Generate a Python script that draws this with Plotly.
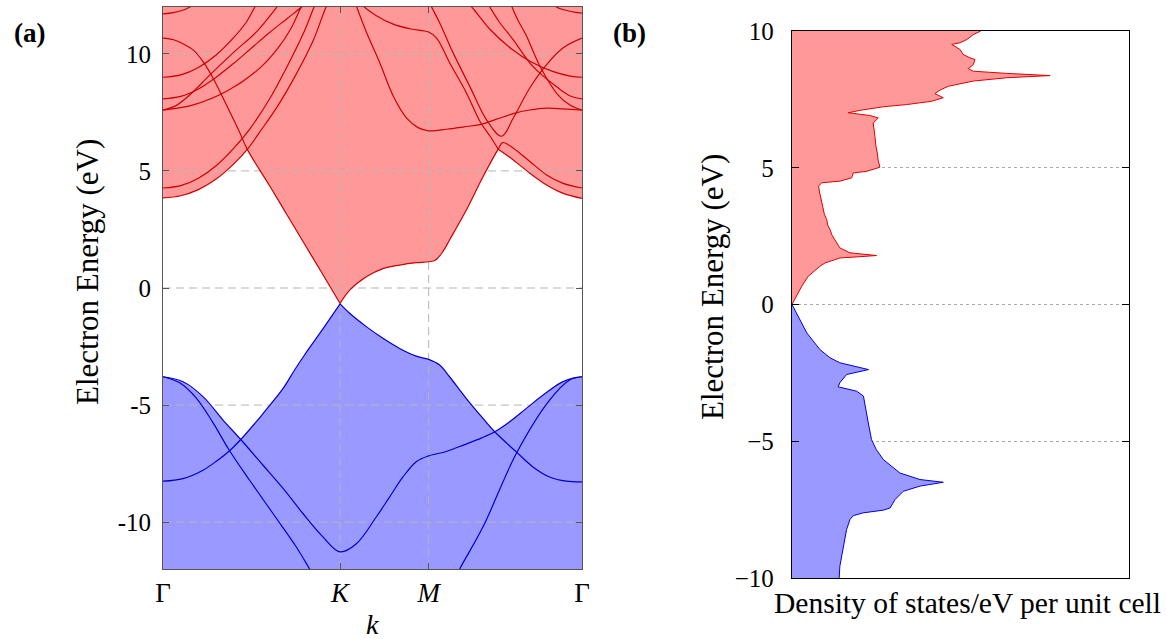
import plotly.graph_objects as go

FONT = "Liberation Serif"
RED_FILL = "#ff9999"
BLUE_FILL = "#9999ff"
RED_LINE = "#cc0000"
BLUE_LINE = "#0000cc"

# ---------------- panel (a): band structure ----------------
K_TICKS = [0.0, 1.0, 1.5, 2.366]
K_TICK_TEXT = ["Γ", "<i>K</i>", "<i>M</i>", "Γ"]
E_RANGE_A = [-12, 12]
E_TICKS = [-10, -5, 0, 5, 10]
E_TICK_TEXT_A = ["-10", "-5", "0", "5", "10"]

# conduction bands
PIS_GK_K = [0, 0.06, 0.12, 0.17, 0.228, 0.284, 0.359, 0.425, 0.476, 0.6, 0.7, 0.8, 0.9, 1.0]
PIS_GK_E = [10.67, 10.6, 10.4, 10.17, 9.65, 8.95, 7.8, 6.78, 5.92, 4.39, 3.13, 1.87, 0.61, -0.66]

PIS_KG_K = [1.0, 1.054, 1.148, 1.242, 1.336, 1.43, 1.5, 1.54, 1.58, 1.618, 1.713, 1.807, 1.893,
            1.918, 1.978, 2.072, 2.166, 2.26, 2.366]
PIS_KG_E = [-0.66, -0.09, 0.48, 0.83, 0.98, 1.08, 1.12, 1.2, 1.55, 2.05, 3.33, 4.75, 5.93,
            6.21, 5.97, 5.40, 4.83, 4.47, 4.27]

CA_L_K = [0, 0.1, 0.2, 0.3, 0.4, 0.476, 0.55, 0.65, 0.75, 0.85, 0.918, 0.96]
CA_L_E = [3.85, 3.94, 4.2, 4.65, 5.3, 5.92, 6.7, 7.8, 9.1, 10.6, 11.95, 12.6]

CB_L_K = [0, 0.1, 0.2, 0.3, 0.4, 0.491, 0.6, 0.7, 0.8, 0.853, 0.9]
CB_L_E = [4.27, 4.37, 4.69, 5.22, 5.97, 6.8, 8.05, 9.45, 11.0, 12.0, 12.8]

G_L_K = [0, 0.06, 0.12, 0.152, 0.2]
G_L_E = [11.71, 11.76, 11.88, 12.0, 12.2]

F1_K = [0, 0.1, 0.2, 0.3, 0.4, 0.47, 0.519, 0.56]
F1_E = [9.0, 9.1, 9.42, 9.95, 10.7, 11.35, 12.0, 12.5]
F2_K = [0, 0.1, 0.2, 0.3, 0.4, 0.5, 0.6, 0.7, 0.783, 0.83]
F2_E = [8.08, 8.18, 8.5, 9.0, 9.6, 10.25, 10.9, 11.5, 12.0, 12.3]
F3_K = [0, 0.076, 0.152, 0.265, 0.397, 0.529, 0.623, 0.68]
F3_E = [7.6, 7.8, 8.25, 9.1, 10.05, 10.95, 11.8, 12.4]
F4_K = [0, 0.171, 0.359, 0.548, 0.65, 0.72, 0.78, 0.82]
F4_E = [7.6, 7.82, 8.4, 9.4, 10.25, 11.05, 12.0, 12.6]

A_K = [1.12, 1.2, 1.3, 1.4, 1.5, 1.545, 1.62, 1.714, 1.79, 1.85, 1.893]
A_E = [12.1, 11.65, 11.27, 11.06, 10.93, 10.67, 9.6, 8.32, 7.11, 6.45, 5.93]
CA_R_K = [1.893, 1.978, 2.072, 2.166, 2.26, 2.366]
CA_R_E = [5.93, 5.47, 4.9, 4.4, 4.04, 3.83]

B_K = [1.5, 1.517, 1.564, 1.639, 1.733, 1.827, 1.912, 1.978, 2.072, 2.166, 2.26, 2.366]
B_E = [12.3, 12.0, 11.3, 10.03, 8.6, 7.18, 6.48, 7.26, 8.55, 9.54, 10.26, 10.67]

FLAT_K = [1.08, 1.094, 1.15, 1.225, 1.3, 1.376, 1.44, 1.5, 1.602, 1.7, 1.79, 1.88, 1.978,
          2.07, 2.166, 2.26, 2.366]
FLAT_E = [12.3, 12.0, 10.9, 9.6, 8.2, 7.25, 6.85, 6.71, 6.78, 6.88, 6.98, 7.2, 7.45,
          7.6, 7.68, 7.65, 7.6]

G1_K = [1.72, 1.76, 1.846, 1.978, 2.08, 2.2, 2.3, 2.366]
G1_E = [12.2, 11.85, 11.05, 10.15, 9.65, 9.25, 9.05, 9.0]
G2_K = [1.83, 1.9, 1.978, 2.09, 2.23, 2.3, 2.366]
G2_E = [12.2, 11.35, 10.6, 9.45, 8.55, 8.2, 8.08]
G3_K = [1.96, 2.0, 2.05, 2.13, 2.23, 2.3, 2.366]
G3_E = [12.2, 11.5, 10.8, 9.45, 8.25, 7.8, 7.6]
G_R_K = [2.2, 2.222, 2.28, 2.33, 2.366]
G_R_E = [12.2, 12.0, 11.85, 11.77, 11.74]

# valence bands
PI_GK_K = [0, 0.113, 0.226, 0.301, 0.376, 0.439, 0.565, 0.678, 0.743, 0.8, 0.9, 1.0]
PI_GK_E = [-8.25, -8.14, -7.78, -7.4, -6.95, -6.47, -5.36, -4.29, -3.5, -2.85, -1.78, -0.68]

PI_KG_K = [1.0, 1.054, 1.148, 1.242, 1.336, 1.43, 1.5, 1.562, 1.618, 1.713, 1.807, 1.873,
           1.995, 2.089, 2.183, 2.277, 2.366]
PI_KG_E = [-0.68, -1.08, -1.65, -2.15, -2.58, -2.91, -3.05, -3.29, -3.79, -4.72, -5.57, -6.14,
           -7.0, -7.64, -8.07, -8.25, -8.28]

SIG1_K = [0, 0.113, 0.226, 0.339, 0.439, 0.565, 0.678, 0.79, 0.903, 1.0, 1.092, 1.204, 1.28,
          1.355, 1.43, 1.5, 1.6, 1.7, 1.8, 1.873, 1.95, 2.05, 2.15, 2.25, 2.32, 2.366]
SIG1_E = [-3.79, -4.0, -4.64, -5.64, -6.47, -7.57, -8.56, -9.63, -10.63, -11.27, -10.92, -9.78,
          -8.92, -8.07, -7.42, -7.17, -6.98, -6.7, -6.4, -6.14, -5.75, -5.15, -4.55, -4.03,
          -3.84, -3.79]

SIG2_K = [0, 0.094, 0.188, 0.282, 0.376, 0.489, 0.621, 0.753, 0.828, 0.9, 1.0, 1.25, 1.5,
          1.6, 1.675, 1.807, 1.995, 2.183, 2.296, 2.366]
SIG2_E = [-3.79, -4.05, -4.7, -5.75, -6.95, -8.21, -9.63, -11.06, -12.0, -12.9, -13.7, -14.3,
          -13.9, -13.1, -12.0, -10.2, -7.07, -4.79, -3.93, -3.79]

# ---------------- panel (b): density of states ----------------
E_RANGE_B = [-10, 10]
E_TICK_TEXT_B = ["−10", "−5", "0", "5", "10"]
DOS_RANGE = [0, 1]

DOS_C_E = [0, 0.67, 1.03, 1.4, 1.52, 1.7, 1.79, 1.89, 2.07, 2.37, 2.55, 2.74, 2.9, 3.11, 3.3,
           3.59, 3.8, 3.96, 4.15, 4.33, 4.45, 4.51, 4.63, 4.81, 4.87, 5.02, 5.25, 5.54, 5.8,
           6.15, 6.4, 6.64, 6.82, 6.91, 7.01, 7.1, 7.23, 7.31, 7.43, 7.56, 7.71, 7.84, 7.98,
           8.17, 8.29, 8.37, 8.45, 8.53, 8.62, 8.77, 8.96, 9.02, 9.14, 9.32, 9.51, 9.57, 9.69,
           9.87, 10.0]
DOS_C_D = [0, 0.029, 0.048, 0.083, 0.098, 0.142, 0.251, 0.172, 0.142, 0.128, 0.118, 0.113,
           0.106, 0.103, 0.096, 0.091, 0.087, 0.083, 0.081, 0.079, 0.088, 0.142, 0.177, 0.182,
           0.222, 0.261, 0.256, 0.253, 0.249, 0.246, 0.243, 0.241, 0.256, 0.231, 0.167, 0.202,
           0.271, 0.34, 0.414, 0.449, 0.424, 0.439, 0.464, 0.538, 0.637, 0.766, 0.637, 0.538,
           0.523, 0.538, 0.543, 0.528, 0.508, 0.499, 0.474, 0.499, 0.519, 0.538, 0.56]

DOS_V_E = [0, -0.55, -1.04, -1.65, -1.95, -2.13, -2.25, -2.38, -2.56, -2.86, -3.01, -3.17,
           -3.35, -3.72, -4.3, -4.94, -5.3, -5.67, -6.16, -6.4, -6.5, -6.64, -6.83, -7.13,
           -7.44, -7.52, -7.62, -7.72, -7.86, -8.23, -8.84, -9.57, -10.0]
DOS_V_D = [0, 0.022, 0.044, 0.083, 0.113, 0.142, 0.182, 0.227, 0.162, 0.142, 0.137, 0.192,
           0.212, 0.217, 0.226, 0.236, 0.25, 0.271, 0.32, 0.38, 0.449, 0.38, 0.33, 0.306,
           0.291, 0.271, 0.21, 0.182, 0.172, 0.162, 0.152, 0.142, 0.14]


def seg(k, e, k0, k1):
    idx = [i for i, kk in enumerate(k) if k0 - 1e-9 <= kk <= k1 + 1e-9]
    return [k[i] for i in idx], [e[i] for i in idx]


def envelope(parts):
    ks, es = [], []
    for k, e, k0, k1 in parts:
        sk, se = seg(k, e, k0, k1)
        ks += sk
        es += se
    return ks, es


fig = go.Figure()

# red fill: lowest conduction band up to top of axis
ck, ce = envelope([(CA_L_K, CA_L_E, 0, 0.476), (PIS_GK_K, PIS_GK_E, 0.476, 1.0),
                   (PIS_KG_K, PIS_KG_E, 1.0, 1.893), (CA_R_K, CA_R_E, 1.893, 2.366)])
fig.add_trace(go.Scatter(x=ck + [K_TICKS[-1], K_TICKS[0]], y=ce + [E_RANGE_A[1], E_RANGE_A[1]],
                         mode="lines", fill="toself", fillcolor=RED_FILL, line=dict(width=0),
                         hoverinfo="skip", showlegend=False, xaxis="x", yaxis="y"))
# blue fill: highest valence band down to bottom of axis
vk, ve = envelope([(SIG1_K, SIG1_E, 0, 0.439), (PI_GK_K, PI_GK_E, 0.439, 1.0),
                   (PI_KG_K, PI_KG_E, 1.0, 1.873), (SIG1_K, SIG1_E, 1.873, 2.366)])
fig.add_trace(go.Scatter(x=vk + [K_TICKS[-1], K_TICKS[0]], y=ve + [E_RANGE_A[0], E_RANGE_A[0]],
                         mode="lines", fill="toself", fillcolor=BLUE_FILL, line=dict(width=0),
                         hoverinfo="skip", showlegend=False, xaxis="x", yaxis="y"))

# grid of panel (a), drawn over the fills
gx, gy = [], []
for e in E_TICKS:
    gx += [K_TICKS[0], K_TICKS[-1], None]
    gy += [e, e, None]
for k in K_TICKS[1:-1]:
    gx += [k, k, None]
    gy += [E_RANGE_A[0], E_RANGE_A[1], None]
fig.add_trace(go.Scatter(x=gx, y=gy, mode="lines", line=dict(color="#b5b5b5", width=1, dash="8px,5px"),
                         hoverinfo="skip", showlegend=False, xaxis="x", yaxis="y"))

cond = [(PIS_GK_K, PIS_GK_E), (PIS_KG_K, PIS_KG_E), (CA_L_K, CA_L_E), (CB_L_K, CB_L_E),
        (G_L_K, G_L_E), (F1_K, F1_E), (F2_K, F2_E), (F3_K, F3_E), (F4_K, F4_E),
        (A_K, A_E), (CA_R_K, CA_R_E), (B_K, B_E), (FLAT_K, FLAT_E),
        (G1_K, G1_E), (G2_K, G2_E), (G3_K, G3_E), (G_R_K, G_R_E)]
val = [(PI_GK_K, PI_GK_E), (PI_KG_K, PI_KG_E), (SIG1_K, SIG1_E), (SIG2_K, SIG2_E)]
for k, e in cond:
    fig.add_trace(go.Scatter(x=k, y=e, mode="lines", line=dict(color=RED_LINE, width=1.2, shape="spline"),
                             hoverinfo="skip", showlegend=False, xaxis="x", yaxis="y"))
for k, e in val:
    fig.add_trace(go.Scatter(x=k, y=e, mode="lines", line=dict(color=BLUE_LINE, width=1.2, shape="spline"),
                             hoverinfo="skip", showlegend=False, xaxis="x", yaxis="y"))

# panel (b)
fig.add_trace(go.Scatter(x=DOS_C_D, y=DOS_C_E, mode="lines", fill="tozerox", fillcolor=RED_FILL,
                         line=dict(color="#e00000", width=1), hoverinfo="skip", showlegend=False,
                         xaxis="x2", yaxis="y2"))
fig.add_trace(go.Scatter(x=DOS_V_D, y=DOS_V_E, mode="lines", fill="tozerox", fillcolor=BLUE_FILL,
                         line=dict(color="#0000e0", width=1), hoverinfo="skip", showlegend=False,
                         xaxis="x2", yaxis="y2"))

W, H = 1166, 639


def ann(text, px, py, size, angle=0):
    return dict(text=text, x=px / W, y=1 - py / H, xref="paper", yref="paper", showarrow=False,
                xanchor="center", yanchor="middle", textangle=angle, font=dict(size=size))


fig.update_layout(
    width=W, height=H, margin=dict(l=0, r=0, t=0, b=0, autoexpand=False),
    paper_bgcolor="white", plot_bgcolor="white",
    font=dict(family=FONT, size=24, color="black"),
    xaxis=dict(domain=[163 / W, 582 / W], range=[K_TICKS[0], K_TICKS[-1]], anchor="y",
               tickvals=K_TICKS, ticktext=K_TICK_TEXT, ticks="inside", ticklen=6,
               tickcolor="#555555", showline=True, linecolor="#555555", linewidth=1,
               mirror="ticks", showgrid=False, zeroline=False, tickfont=dict(size=27)),
    yaxis=dict(domain=[1 - 569 / H, 1 - 7 / H], range=E_RANGE_A, anchor="x",
               tickvals=E_TICKS, ticktext=E_TICK_TEXT_A, ticks="inside", ticklen=6,
               tickcolor="#555555", showline=True, linecolor="#555555", linewidth=1,
               mirror="ticks", showgrid=False, zeroline=False, ticklabelstandoff=6,
               tickfont=dict(size=25)),
    xaxis2=dict(domain=[792 / W, 1129 / W], range=DOS_RANGE, anchor="y2",
                showticklabels=False, ticks="", showline=True, linecolor="black", linewidth=1.3,
                mirror=True, showgrid=False, zeroline=False),
    yaxis2=dict(domain=[1 - 578 / H, 1 - 31 / H], range=E_RANGE_B, anchor="x2",
                tickvals=E_TICKS, ticktext=E_TICK_TEXT_B, ticks="inside", ticklen=7,
                tickcolor="black", showline=True, linecolor="black", linewidth=1.3,
                mirror="ticks", showgrid=True, gridcolor="#aaaaaa", griddash="dot",
                zeroline=False, ticklabelstandoff=12, tickfont=dict(size=25)),
    annotations=[
        ann("<b>(a)</b>", 29, 33, 27),
        ann("<b>(b)</b>", 629, 33, 27),
        ann("Electron Energy (eV)", 88, 272, 31, -90),
        ann("Electron Energy (eV)", 712, 287, 31, -90),
        ann("Density of states/eV per unit cell", 967, 603, 29.5),
        ann("<i>k</i>", 372, 624, 28),
    ],
)

fig.write_html("out.html",
               post_script="document.body.style.margin='0';document.body.style.overflow='hidden';")
